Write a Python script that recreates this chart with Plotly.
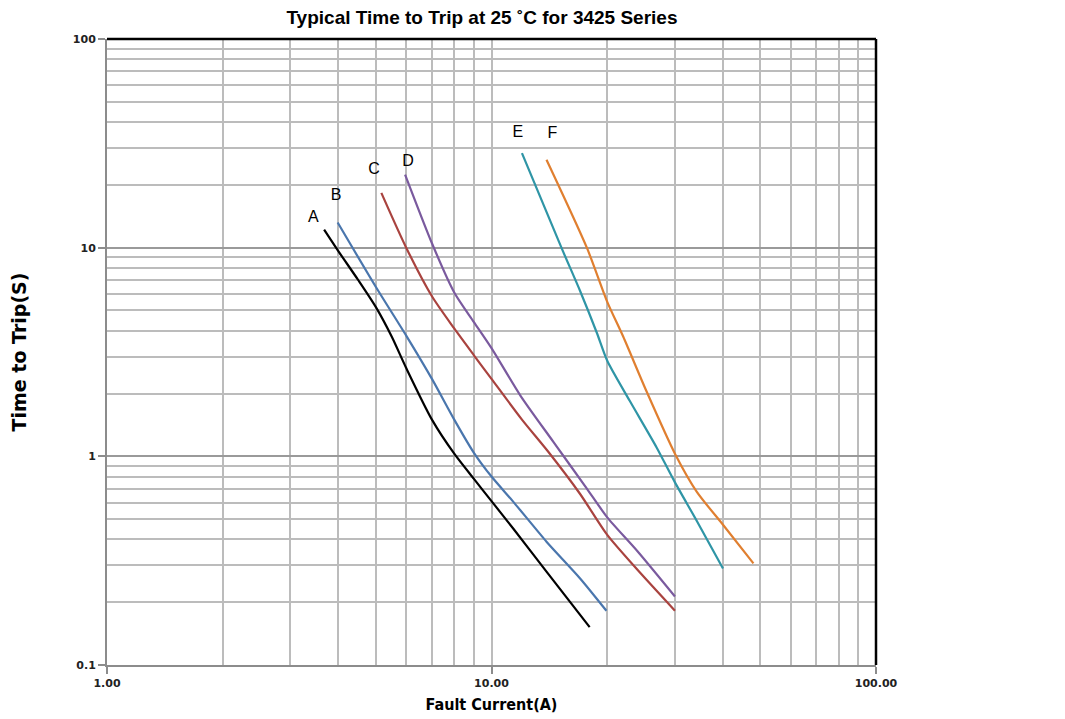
import plotly.graph_objects as go

# Curve data (Fault current A, Time to trip s)
a_x = [3.67, 4.0, 4.5, 5.0, 5.5, 6.0, 7.0, 8.0, 9.0, 10.0, 11.4, 13.9, 18.0]
a_y = [12.2, 9.6, 7.0, 5.2, 3.75, 2.65, 1.5, 1.03, 0.78, 0.61, 0.45, 0.28, 0.152]
b_x = [3.98, 5.0, 6.0, 7.0, 8.0, 9.0, 10.0, 11.4, 13.9, 17.0, 19.9]
b_y = [13.2, 6.5, 3.79, 2.35, 1.5, 1.04, 0.8, 0.605, 0.39, 0.26, 0.182]
c_x = [5.17, 6.0, 7.0, 8.0, 9.0, 10.0, 12.0, 14.0, 17.0, 20.0, 24.0, 30.0]
c_y = [18.3, 10.0, 5.85, 4.1, 3.05, 2.35, 1.5, 1.06, 0.66, 0.42, 0.285, 0.182]
d_x = [5.96, 7.0, 8.0, 9.0, 10.0, 11.9, 14.5, 17.7, 20.0, 24.0, 30.0]
d_y = [22.4, 10.5, 6.1, 4.4, 3.3, 1.95, 1.17, 0.70, 0.51, 0.35, 0.213]
e_x = [12.0, 15.2, 17.0, 18.8, 20.0, 22.9, 26.9, 30.0, 34.2, 40.0]
e_y = [28.4, 10.0, 6.2, 3.9, 2.87, 1.84, 1.1, 0.75, 0.49, 0.29]
f_x = [13.9, 17.7, 20.0, 22.0, 25.3, 30.0, 34.2, 40.0, 48.0]
f_y = [26.4, 10.0, 5.5, 3.75, 2.05, 1.03, 0.676, 0.47, 0.307]

names = ["A", "B", "C", "D", "E", "F"]
colors = ["#000000", "#4a76ad", "#a9433f", "#7a5a9e", "#2f95a6", "#e07f30"]
label_x = [3.44, 3.94, 4.95, 6.07, 11.7, 14.4]
label_y = [13.9, 17.7, 23.6, 25.8, 35.5, 35.1]

x_tickvals = [1, 10, 100]
x_ticktext = ["1.00", "10.00", "100.00"]
y_tickvals = [0.1, 1, 10, 100]
y_ticktext = ["0.1", "1", "10", "100"]
minor_vals = [m * d for d in (0.1, 1, 10) for m in range(2, 10)]

series = [(a_x, a_y), (b_x, b_y), (c_x, c_y), (d_x, d_y), (e_x, e_y), (f_x, f_y)]

fig = go.Figure()
for (xs, ys), n, c in zip(series, names, colors):
    fig.add_trace(go.Scatter(x=xs, y=ys, mode="lines", name=n,
                             line=dict(color=c, width=2.2, shape="spline", smoothing=0.7)))

fig.add_trace(go.Scatter(x=label_x, y=label_y, mode="text", text=names,
                         textfont=dict(family="Liberation Sans", size=16, color="#000"),
                         showlegend=False))

tickfont = dict(family="DejaVu Sans", size=11, color="#222", weight="bold")
fig.update_layout(
    width=1057, height=711,
    paper_bgcolor="white", plot_bgcolor="white",
    margin=dict(l=99, r=189, t=31, b=54, autoexpand=False),
    showlegend=False,
    title=dict(text="<b>Typical Time to Trip at 25 ˚C for 3425 Series</b>",
               x=0.4484, xanchor="center", y=0.9958, yanchor="top",
               font=dict(family="Liberation Sans", size=19, color="#000")),
    xaxis=dict(type="log", range=[0, 2], tickvals=x_tickvals, ticktext=x_ticktext,
               tickfont=tickfont, showgrid=True, gridcolor="#bcbcbc", gridwidth=2,
               showline=True, linecolor="#8c8c8c", linewidth=2,
               ticks="outside", ticklen=7, tickcolor="#8c8c8c", tickwidth=2,
               minor=dict(tickvals=minor_vals, showgrid=True, gridcolor="#bcbcbc", gridwidth=2, ticks=""),
               zeroline=False, automargin=False,
               title=dict(text="<b>Fault Current(A)</b>", standoff=10,
                          font=dict(family="DejaVu Sans Condensed", size=16, color="#000"))),
    yaxis=dict(type="log", range=[-1, 2], tickvals=y_tickvals, ticktext=y_ticktext,
               tickfont=tickfont, showgrid=True, gridcolor="#9a9a9a", gridwidth=2,
               showline=True, linecolor="#8c8c8c", linewidth=2,
               ticks="outside", ticklen=7, tickcolor="#8c8c8c", tickwidth=2,
               minor=dict(tickvals=minor_vals, showgrid=True, gridcolor="#bcbcbc", gridwidth=2, ticks=""),
               zeroline=False, automargin=False,
               title=dict(text="<b>Time to Trip(S)</b>", standoff=48,
                          font=dict(family="DejaVu Sans", size=19, color="#000"))),
)

# black top and right frame
fig.add_shape(type="line", xref="x domain", yref="y domain", x0=0, x1=1, y0=1, y1=1,
              line=dict(color="#000", width=2.5))
fig.add_shape(type="line", xref="x domain", yref="y domain", x0=1, x1=1, y0=0, y1=1,
              line=dict(color="#000", width=2.5))

fig.write_html("out.html")
